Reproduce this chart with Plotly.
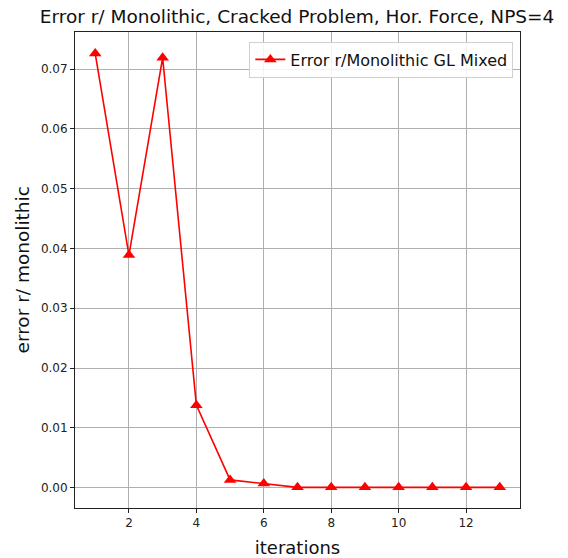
import plotly.graph_objects as go

iterations = [1, 2, 3, 4, 5, 6, 7, 8, 9, 10, 11, 12, 13]
error_mixed = [0.0726, 0.0389, 0.0719, 0.0138, 0.0013, 0.0007, 0.00005,
               0.00005, 0.00005, 0.00005, 0.00005, 0.00005, 0.00005]
x_ticks = [2, 4, 6, 8, 10, 12]
y_ticks = [0.00, 0.01, 0.02, 0.03, 0.04, 0.05, 0.06, 0.07]

font = "DejaVu Sans, sans-serif"

fig = go.Figure()
fig.add_trace(go.Scatter(
    x=iterations, y=error_mixed,
    mode="lines+markers",
    name="Error r/Monolithic GL Mixed",
    line=dict(color="red", width=1.6),
    marker=dict(symbol="triangle-up", size=11, color="red"),
))

axis_common = dict(
    showline=True, linecolor="#222", linewidth=1, mirror=True,
    showgrid=True, gridcolor="#b0b0b0", gridwidth=1,
    ticks="outside", ticklen=4, tickcolor="#222",
    tickfont=dict(family=font, size=12, color="#222"),
    zeroline=False, automargin=False,
)

fig.update_xaxes(
    range=[0.4, 13.6], tickvals=x_ticks,
    title=dict(text="iterations", font=dict(family=font, size=18, color="#111")),
    **axis_common,
)
fig.update_yaxes(
    range=[-0.0034, 0.0762], tickvals=y_ticks, tickformat=".2f",
    **axis_common,
)

# y-axis label placed as a rotated annotation left of the tick labels
fig.add_annotation(
    text="error r/ monolithic", xref="paper", yref="paper",
    x=-0.118, y=0.5, xanchor="center", yanchor="middle",
    textangle=-90, showarrow=False,
    font=dict(family=font, size=18.5, color="#111"),
)

fig.update_layout(
    width=568, height=558,
    margin=dict(l=75, r=48, t=32, b=50),
    paper_bgcolor="white", plot_bgcolor="white",
    title=dict(text="Error r/ Monolithic, Cracked Problem, Hor. Force, NPS=4",
               font=dict(family=font, size=18.5, color="#111"),
               x=0.523, xanchor="center", y=0.971, yanchor="middle"),
    legend=dict(x=0.985, y=0.98, xanchor="right", yanchor="top",
                bordercolor="#d0d0d0", borderwidth=1, bgcolor="rgba(255,255,255,0.85)",
                font=dict(family=font, size=16, color="#111")),
    showlegend=True,
)

fig.write_html("out.html")
